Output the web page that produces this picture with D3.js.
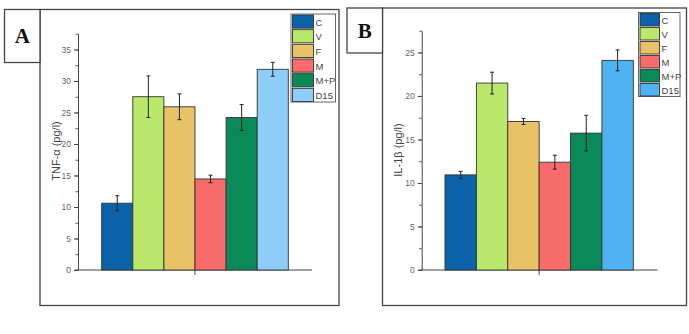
<!DOCTYPE html>
<html><head><meta charset="utf-8">
<script src="https://cdn.jsdelivr.net/npm/d3@7"></script>
<style>body{margin:0;background:#fff}svg{display:block}</style>
</head><body>
<svg id="c" width="689" height="334"></svg>
<script>
const categories = ["C","V","F","M","M+P","D15"];
const tnfValues = [10.6, 27.5, 25.9, 14.45, 24.2, 31.85];
const tnfErrors = [1.2, 3.3, 2.05, 0.6, 2.05, 1.1];
const il1bValues = [10.93, 21.48, 17.07, 12.39, 15.73, 24.09];
const il1bErrors = [0.4, 1.25, 0.35, 0.8, 2.05, 1.2];
const tnfTicks = [0,5,10,15,20,25,30,35];
const il1bTicks = [0,5,10,15,20,25];
const colorsA = ["#0b62a8","#b9e86a","#e9c268","#f86b6b","#0a8a58","#8dcdf8"];
const colorsB = ["#0b62a8","#b9e86a","#e9c268","#f86b6b","#0a8a58","#4fb3f2"];

const svg = d3.select("#c");

function panel(o){
  const g = svg.append("g");
  g.append("rect").attr("x",o.fx).attr("y",o.fy).attr("width",o.fw).attr("height",o.fh)
    .attr("fill","none").attr("stroke","#444").attr("stroke-width",1.3);
  g.append("rect").attr("x",o.lx).attr("y",o.fy).attr("width",o.fx-o.lx).attr("height",o.lh)
    .attr("fill","#fff").attr("stroke","#444").attr("stroke-width",1.3);
  g.append("text").attr("x",(o.lx+o.fx)/2).attr("y",o.fy+o.lh/2+7)
    .attr("text-anchor","middle").attr("font-family","Liberation Serif, serif")
    .attr("font-weight","bold").attr("font-size",21).attr("fill","#111").text(o.letter);

  const y = d3.scaleLinear().domain([0,o.ymax]).range([o.y0,o.y1]);
  const x = d3.scaleBand().domain(categories).range([o.b0,o.b1]).padding(0);

  const minor = d3.range(0,o.ymax+0.001,2.5);
  g.append("g").attr("transform",`translate(${o.ax},0)`)
    .call(d3.axisLeft(y).tickValues(minor).tickSize(2.5).tickFormat(""))
    .call(a=>{a.select(".domain").remove();a.selectAll("line").attr("stroke","#555");});
  const ya = g.append("g").attr("transform",`translate(${o.ax},0)`)
    .call(d3.axisLeft(y).tickValues(o.ticks).tickSize(4).tickPadding(3).tickSizeOuter(0));
  ya.select(".domain").attr("stroke","#444").attr("stroke-width",1);
  ya.selectAll("line").attr("stroke","#444");
  ya.selectAll("text").attr("font-family","Liberation Sans, Arial, sans-serif")
    .attr("font-size",8.5).attr("fill","#666");

  g.append("line").attr("x1",o.ax-3).attr("x2",o.xend).attr("y1",o.y0).attr("y2",o.y0)
    .attr("stroke","#444").attr("stroke-width",1);
  g.append("line").attr("x1",(o.b0+o.b1)/2).attr("x2",(o.b0+o.b1)/2).attr("y1",o.y0).attr("y2",o.y0+5)
    .attr("stroke","#444").attr("stroke-width",1);

  g.selectAll("rect.bar").data(categories).join("rect").attr("class","bar")
    .attr("x",d=>x(d)).attr("width",x.bandwidth())
    .attr("y",(d,i)=>y(o.values[i])).attr("height",(d,i)=>y(0)-y(o.values[i]))
    .attr("fill",(d,i)=>o.colors[i]).attr("stroke","#333").attr("stroke-width",0.9);

  const eb = g.selectAll("g.eb").data(categories).join("g").attr("class","eb");
  eb.append("line").attr("x1",d=>x(d)+x.bandwidth()/2).attr("x2",d=>x(d)+x.bandwidth()/2)
    .attr("y1",(d,i)=>y(o.values[i]+o.errors[i])).attr("y2",(d,i)=>y(o.values[i]-o.errors[i]))
    .attr("stroke","#222").attr("stroke-width",1);
  [1,-1].forEach(s=>{
    eb.append("line").attr("x1",d=>x(d)+x.bandwidth()/2-2).attr("x2",d=>x(d)+x.bandwidth()/2+2)
      .attr("y1",(d,i)=>y(o.values[i]+s*o.errors[i])).attr("y2",(d,i)=>y(o.values[i]+s*o.errors[i]))
      .attr("stroke","#222").attr("stroke-width",1);
  });

  g.append("text").attr("transform",`translate(${o.tx},${o.ty}) rotate(-90)`)
    .attr("text-anchor","middle").attr("font-family","Liberation Sans, Arial, sans-serif")
    .attr("font-size",11).attr("fill","#444").text(o.ylabel);

  const rh = (o.legH)/categories.length;
  g.append("rect").attr("x",o.legX).attr("y",o.legY).attr("width",o.legW).attr("height",o.legH)
    .attr("fill","#fff").attr("stroke","#666").attr("stroke-width",1);
  const lg = g.selectAll("g.lg").data(categories).join("g").attr("class","lg")
    .attr("transform",(d,i)=>`translate(${o.legX+1.5},${o.legY+1+i*rh})`);
  lg.append("rect").attr("width",o.swW).attr("height",rh-1.5)
    .attr("fill",(d,i)=>o.colors[i]).attr("stroke","#333").attr("stroke-width",0.9);
  lg.append("text").attr("x",o.swW+2).attr("y",rh/2+3.5)
    .attr("font-family","Liberation Sans, Arial, sans-serif").attr("font-size",9.5)
    .attr("fill","#444").text(d=>d);
}

panel({letter:"A", fx:40, fy:9.5, fw:299, fh:296, lx:4.5, lh:53,
  ax:78, y0:270, y1:33.7, ymax:37.5, ticks:tnfTicks, xend:312,
  b0:101.7, b1:288.3, values:tnfValues, errors:tnfErrors, colors:colorsA,
  ylabel:"TNF-α (pg/l)", tx:60, ty:151,
  legX:291, legY:14, legW:44.5, legH:88, swW:21});

panel({letter:"B", fx:382.5, fy:8, fw:304, fh:297.5, lx:347, lh:45,
  ax:421.7, y0:270, y1:30.7, ymax:27.5, ticks:il1bTicks, xend:657.5,
  b0:445, b1:633.3, values:il1bValues, errors:il1bErrors, colors:colorsB,
  ylabel:"IL-1β (pg/l)", tx:402, ty:150,
  legX:638.5, legY:12.5, legW:41.5, legH:84, swW:19.5});
</script>
</body></html>
